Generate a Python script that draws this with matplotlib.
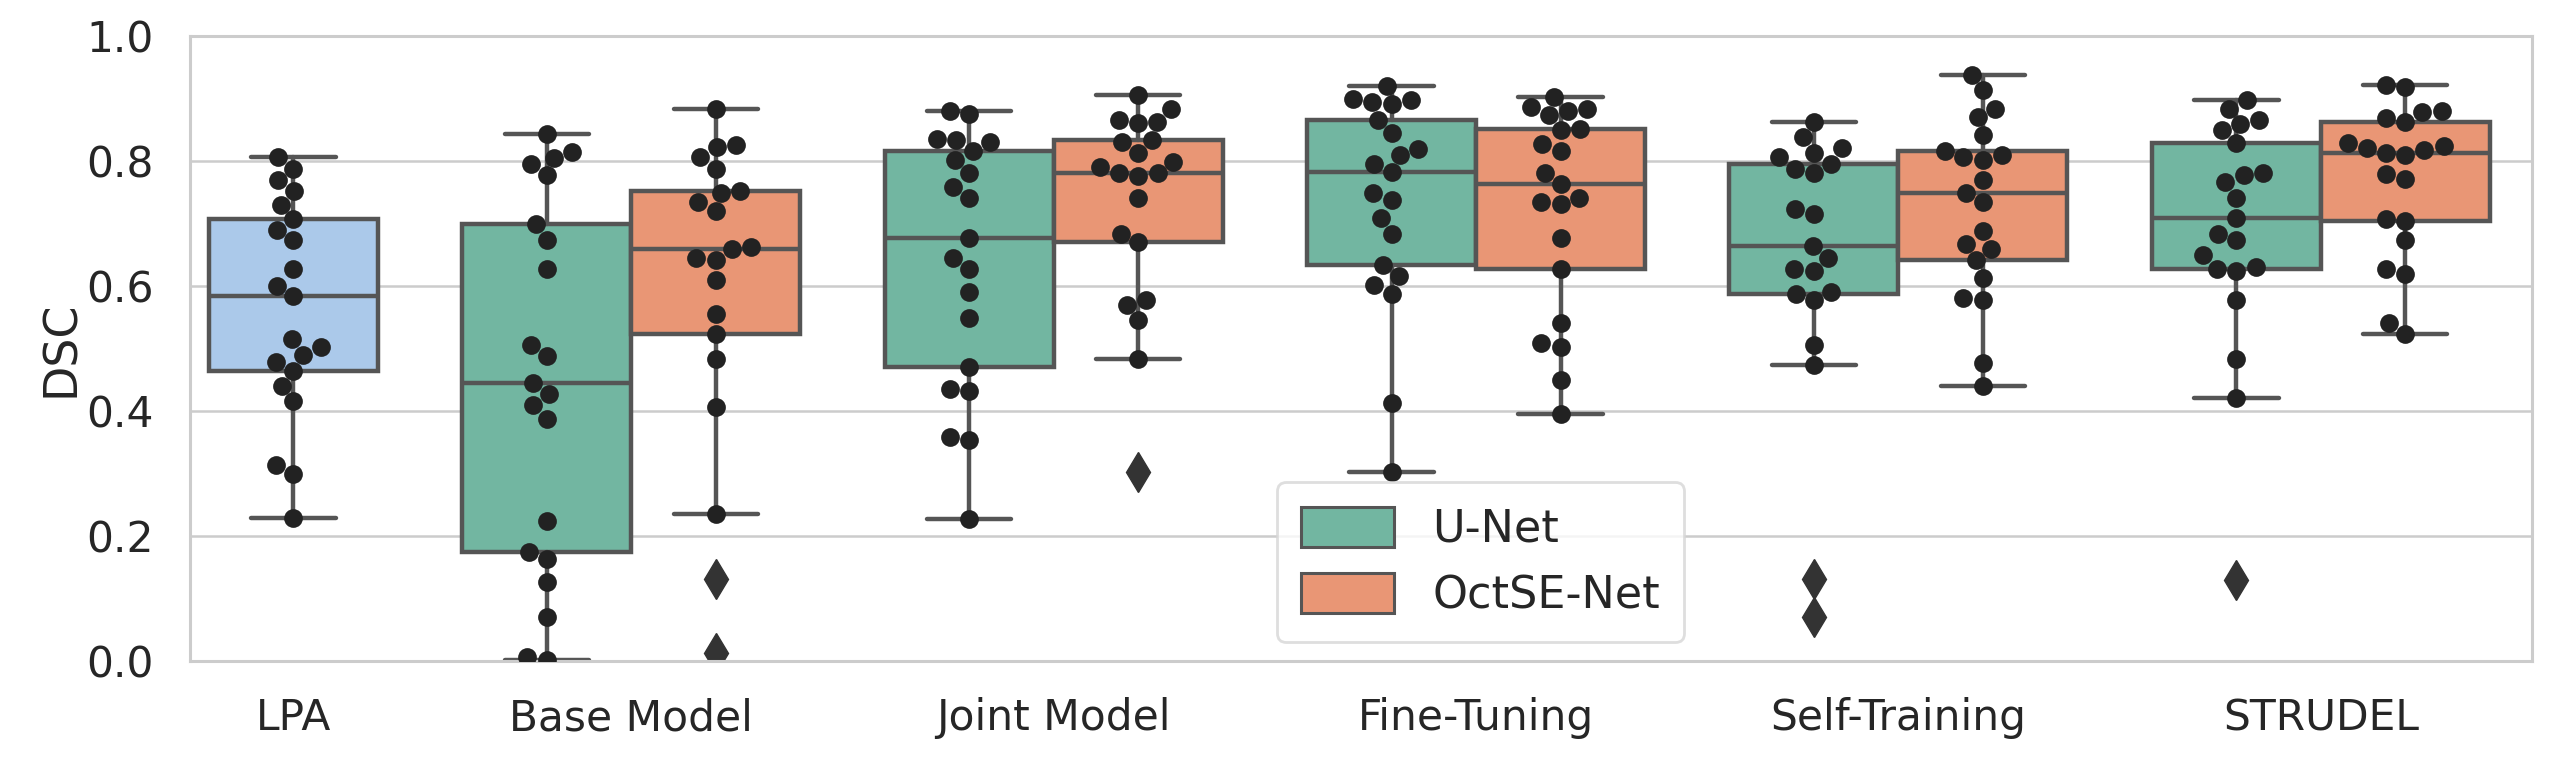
import numpy as np
import pandas as pd
import matplotlib
import matplotlib.pyplot as plt
import seaborn as sns
from matplotlib.patches import Patch

methods = ["LPA", "Base Model", "Joint Model", "Fine-Tuning", "Self-Training", "STRUDEL"]
models = ["U-Net", "OctSE-Net"]

# DSC per test image
lpa = [0.806, 0.788, 0.770, 0.752, 0.730, 0.707, 0.690, 0.673, 0.627, 0.600, 0.584,
       0.515, 0.503, 0.490, 0.478, 0.464, 0.440, 0.416, 0.313, 0.300, 0.229]

base_unet = [0.844, 0.815, 0.805, 0.795, 0.777, 0.699, 0.674, 0.627, 0.506, 0.488, 0.445,
             0.427, 0.409, 0.388, 0.224, 0.174, 0.163, 0.127, 0.070, 0.006, 0.002]
base_oct = [0.884, 0.826, 0.822, 0.806, 0.788, 0.752, 0.749, 0.734, 0.720, 0.662, 0.659,
            0.645, 0.641, 0.609, 0.556, 0.524, 0.484, 0.406, 0.236, 0.131, 0.013]
joint_unet = [0.880, 0.876, 0.836, 0.833, 0.830, 0.816, 0.802, 0.781, 0.759, 0.741, 0.677,
              0.645, 0.627, 0.591, 0.549, 0.470, 0.436, 0.432, 0.358, 0.354, 0.227]
joint_oct = [0.906, 0.884, 0.866, 0.863, 0.861, 0.834, 0.831, 0.813, 0.799, 0.790, 0.781,
             0.781, 0.776, 0.741, 0.684, 0.670, 0.577, 0.570, 0.545, 0.484, 0.302]
ft_unet = [0.920, 0.899, 0.897, 0.895, 0.891, 0.866, 0.845, 0.820, 0.809, 0.795, 0.782,
           0.749, 0.738, 0.709, 0.684, 0.634, 0.616, 0.602, 0.588, 0.413, 0.302]
ft_oct = [0.902, 0.886, 0.884, 0.880, 0.873, 0.851, 0.849, 0.827, 0.816, 0.781, 0.763,
          0.741, 0.734, 0.731, 0.677, 0.627, 0.541, 0.509, 0.502, 0.449, 0.395]
st_unet = [0.863, 0.838, 0.821, 0.813, 0.806, 0.796, 0.788, 0.781, 0.724, 0.716, 0.664,
           0.645, 0.627, 0.624, 0.591, 0.588, 0.577, 0.506, 0.473, 0.131, 0.070]
st_oct = [0.938, 0.913, 0.884, 0.870, 0.841, 0.816, 0.810, 0.806, 0.802, 0.770, 0.749,
          0.734, 0.688, 0.667, 0.660, 0.641, 0.613, 0.581, 0.577, 0.477, 0.440]
str_unet = [0.897, 0.884, 0.866, 0.859, 0.849, 0.829, 0.781, 0.777, 0.766, 0.741, 0.709,
            0.684, 0.674, 0.649, 0.630, 0.627, 0.624, 0.577, 0.484, 0.421, 0.129]
str_oct = [0.922, 0.918, 0.880, 0.878, 0.869, 0.863, 0.829, 0.824, 0.821, 0.818, 0.813,
           0.810, 0.779, 0.772, 0.708, 0.704, 0.674, 0.627, 0.620, 0.541, 0.524]

unet_scores = [base_unet, joint_unet, ft_unet, st_unet, str_unet]
oct_scores = [base_oct, joint_oct, ft_oct, st_oct, str_oct]

sns.set_theme(style="whitegrid")

def desat(c, s=0.75):
    return sns.desaturate(c, s)

c_lpa = desat(sns.color_palette("pastel")[0])
c_unet = desat(sns.color_palette("Set2")[0])
c_oct = desat(sns.color_palette("Set2")[1])
line_c = "#555555"
text_c = "#262626"

# box positions: LPA sits in the second dodge slot of the first category
box_w = 0.4
data, pos, cols = [lpa], [0.2], [c_lpa]
for i in range(len(unet_scores)):
    data += [unet_scores[i], oct_scores[i]]
    pos += [i + 1 - box_w / 2, i + 1 + box_w / 2]
    cols += [c_unet, c_oct]

fig = plt.figure(figsize=(25.56, 7.66), dpi=100)
ax = fig.add_axes([0.0743, 0.137, 0.9163, 0.816])

lw = 3.2
bp = ax.boxplot(data, positions=pos, widths=box_w, capwidths=box_w / 2, patch_artist=True,
                boxprops=dict(edgecolor=line_c, linewidth=lw),
                medianprops=dict(color=line_c, linewidth=lw),
                whiskerprops=dict(color=line_c, linewidth=lw),
                capprops=dict(color=line_c, linewidth=lw),
                flierprops=dict(marker="d", markersize=20, markerfacecolor="#333333",
                                markeredgecolor="#333333"),
                zorder=2)
for patch, c in zip(bp["boxes"], cols):
    patch.set_facecolor(c)

# swarm of the non-outlier points
rows = []
for p, vals in zip(pos, data):
    v = np.array(vals)
    q1, q3 = np.percentile(v, [25, 75])
    iqr = q3 - q1
    for x in v[(v >= q1 - 1.5 * iqr) & (v <= q3 + 1.5 * iqr)]:
        rows.append((p, x))
swarm = pd.DataFrame(rows, columns=["pos", "DSC"])
sns.swarmplot(data=swarm, x="pos", y="DSC", native_scale=True, color="#222222",
              size=13.5, ax=ax, zorder=3, warn_thresh=1)

ax.set_xlim(-0.045, 5.5)
ax.set_ylim(0, 1)
ax.set_xticks([0.2, 1, 2, 3, 4, 5])
ax.set_xticklabels(methods)
ax.set_yticks(np.arange(0, 1.01, 0.2))
ax.set_yticklabels([f"{t:.1f}" for t in np.arange(0, 1.01, 0.2)])
ax.set_xlabel("")
ax.set_ylabel("DSC", fontsize=33, color=text_c, labelpad=2)
ax.tick_params(axis="both", labelsize=30.5, colors=text_c, length=0, pad=26)
ax.xaxis.grid(False)
ax.yaxis.grid(True, color="#cccccc", linewidth=1.8)
ax.set_axisbelow(True)
for s in ax.spines.values():
    s.set_color("#cccccc")
    s.set_linewidth(2.2)

handles = [Patch(facecolor=c_unet, edgecolor=line_c, linewidth=2.2, label=models[0]),
           Patch(facecolor=c_oct, edgecolor=line_c, linewidth=2.2, label=models[1])]
leg = ax.legend(handles=handles, loc="lower left", bbox_to_anchor=(0.464, 0.031),
                borderaxespad=0, fontsize=32, frameon=True, handlelength=2.1,
                handleheight=1.0, handletextpad=0.85, borderpad=0.55, labelspacing=0.5)
leg.get_frame().set_edgecolor("#d6d6d6")
leg.get_frame().set_linewidth(2)
for t in leg.get_texts():
    t.set_color(text_c)

fig.savefig("out.png", dpi=100)
